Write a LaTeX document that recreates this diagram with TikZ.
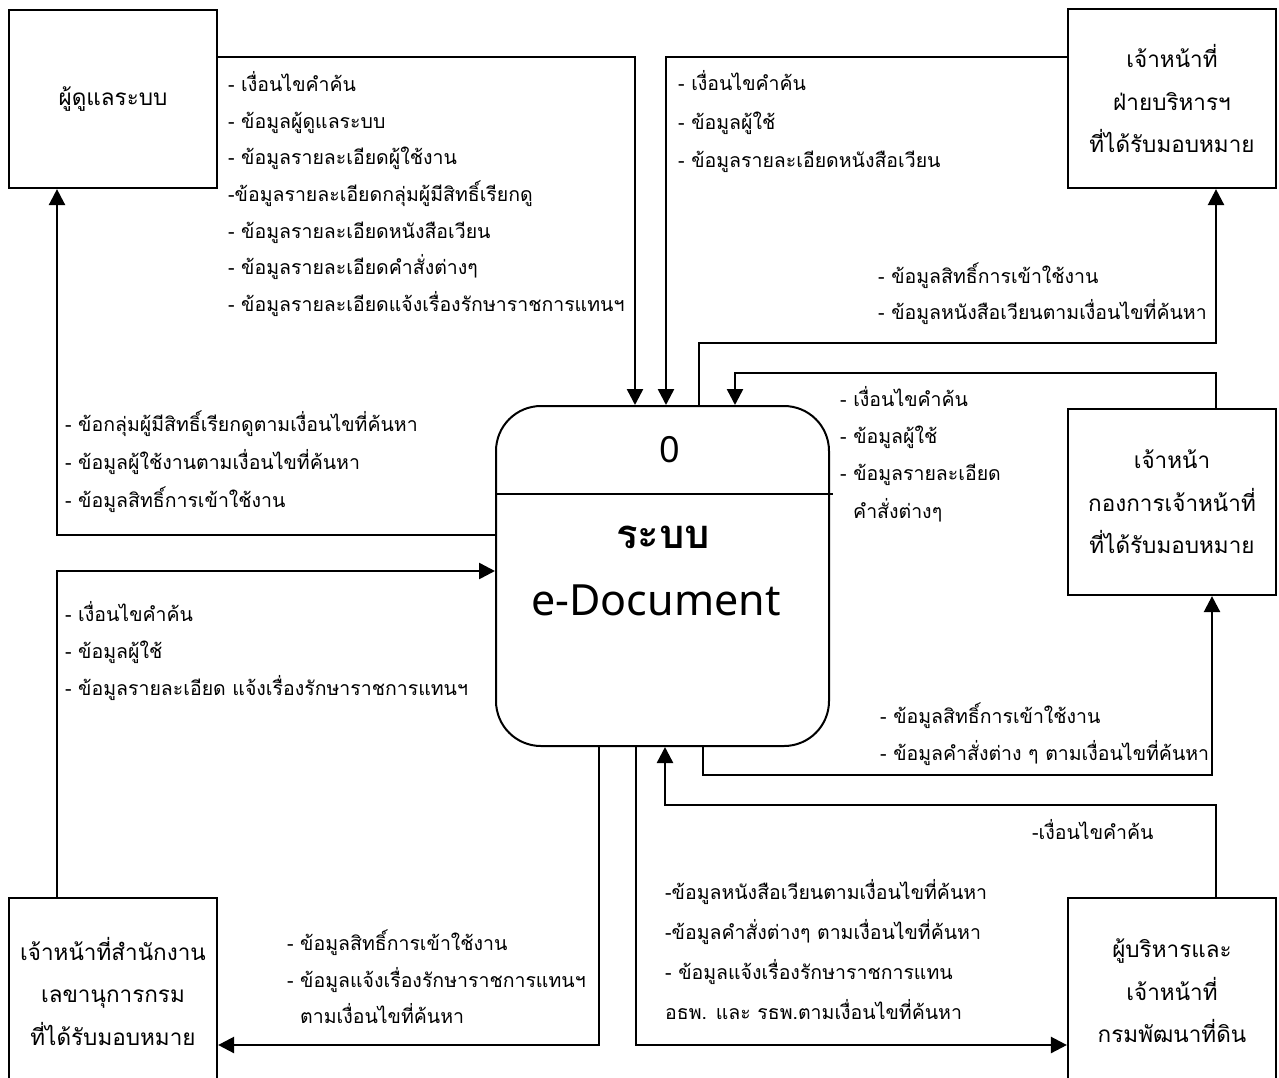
\documentclass[tikz,border=0pt]{standalone}
\usepackage{fontspec}
\setmainfont[Script=Thai]{Loma}
\newfontfamily\latinfont{Noto Sans}
\usetikzlibrary{arrows.meta}

\tikzset{
  entity/.style={draw, line width=2.2pt, minimum width=208pt, align=center,
    inner sep=0pt, font=\fontsize{22.5}{42.5}\selectfont},
  flow/.style={line width=2.5pt, -{Triangle[width=16pt,length=16pt]}},
  note/.style={anchor=west, align=left, inner sep=0pt},
  notefont/.style={font=\fontsize{19.5}{#1}\selectfont},
}

\begin{document}
\begin{tikzpicture}[x=1pt,y=-1pt]
\useasboundingbox (0,0) rectangle (1279,1077);
\clip (0,0) rectangle (1279,1077);

% external entities
\node[entity, minimum height=178pt] (admin) at (113,99) {ผู้ดูแลระบบ};
\node[entity, minimum height=179pt] (ops) at (1172,98.5)
  {เจ้าหน้าที่\\ฝ่ายบริหารฯ\\ที่ได้รับมอบหมาย};
\node[entity, minimum height=186pt] (hr) at (1172,502)
  {เจ้าหน้า\\กองการเจ้าหน้าที่\\ที่ได้รับมอบหมาย};
\node[entity, minimum height=186pt] (secr) at (113,991)
  {เจ้าหน้าที่สำนักงาน\\เลขานุการกรม\\ที่ได้รับมอบหมาย};
\node[entity, minimum height=186pt] (exec) at (1172,991)
  {ผู้บริหารและ\\เจ้าหน้าที่\\กรมพัฒนาที่ดิน};

% the process
\node[draw, line width=2pt, rounded corners=45pt, minimum width=333pt,
  minimum height=340pt, inner sep=0pt] (sys) at (662.5,576) {};
\draw[line width=2pt] (sys.west |- 0,494) -- ([xshift=3pt]sys.east |- 0,494);
\node[font=\latinfont\fontsize{36}{40}\selectfont] (sysid) at (670,450) {0};
\node[font=\bfseries\fontsize{40}{44}\selectfont] (sysname) at (663,537) {ระบบ};
\node[font=\latinfont\fontsize{43}{48}\selectfont] (sysdoc) at (656,600) {e-Document};

% data flows
\draw[flow] (admin.east |- 0,57) -| (sys.north -| 635,0);
\draw[flow] (ops.west |- 0,57) -| (sys.north -| 666,0);
\draw[flow] (sys.north -| 699,0) -- (699,343) -| (ops.south -| 1216,0);
\draw[flow] (hr.north -| 1216,0) -- (1216,373) -| (sys.north -| 735,0);
\draw[flow] (sys.west |- 0,535) -| (admin.south -| 57,0);
\draw[flow] (secr.north -| 57,0) |- (sys.west |- 0,571);
\draw[flow] (sys.south -| 599,0) |- (secr.east |- 0,1045);
\draw[flow] (sys.south -| 636,0) |- (exec.west |- 0,1045);
\draw[flow] (exec.north -| 1216,0) -- (1216,805) -| (sys.south -| 665,0);
\draw[flow] (sys.south -| 703,0) -- (703,775) -| (hr.south -| 1212,0);

% flow labels
\node[note, notefont=36.7] (la) at (228,194) {- เงื่อนไขคำค้น\\- ข้อมูลผู้ดูแลระบบ\\- ข้อมูลรายละเอียดผู้ใช้งาน\\-ข้อมูลรายละเอียดกลุ่มผู้มีสิทธิ์เรียกดู\\- ข้อมูลรายละเอียดหนังสือเวียน\\- ข้อมูลรายละเอียดคำสั่งต่างๆ\\- ข้อมูลรายละเอียดแจ้งเรื่องรักษาราชการแทนฯ};
\node[note, notefont=38.5] (lb) at (678,122) {- เงื่อนไขคำค้น\\- ข้อมูลผู้ใช้\\- ข้อมูลรายละเอียดหนังสือเวียน};
\node[note, notefont=36] (lc) at (878,294) {- ข้อมูลสิทธิ์การเข้าใช้งาน\\- ข้อมูลหนังสือเวียนตามเงื่อนไขที่ค้นหา};
\node[note, notefont=38] (ld) at (65,462) {- ข้อกลุ่มผู้มีสิทธิ์เรียกดูตามเงื่อนไขที่ค้นหา\\- ข้อมูลผู้ใช้งานตามเงื่อนไขที่ค้นหา\\- ข้อมูลสิทธิ์การเข้าใช้งาน};
\node[note, notefont=37.3] (le) at (840,454) {- เงื่อนไขคำค้น\\- ข้อมูลผู้ใช้\\- ข้อมูลรายละเอียด\\\hspace*{13pt}คำสั่งต่างๆ};
\node[note, notefont=37] (lf) at (65,651) {- เงื่อนไขคำค้น\\- ข้อมูลผู้ใช้\\- ข้อมูลรายละเอียด แจ้งเรื่องรักษาราชการแทนฯ};
\node[note, notefont=37] (lg) at (880,734.5) {- ข้อมูลสิทธิ์การเข้าใช้งาน\\- ข้อมูลคำสั่งต่าง ๆ ตามเงื่อนไขที่ค้นหา};
\node[note, notefont=37] (lh) at (1032,830) {-เงื่อนไขคำค้น};
\node[note, notefont=40] (li) at (665,950) {-ข้อมูลหนังสือเวียนตามเงื่อนไขที่ค้นหา\\-ข้อมูลคำสั่งต่างๆ ตามเงื่อนไขที่ค้นหา\\- ข้อมูลแจ้งเรื่องรักษาราชการแทน\\อธพ. และ รธพ.ตามเงื่อนไขที่ค้นหา};
\node[note, notefont=36.5] (lj) at (287,977) {- ข้อมูลสิทธิ์การเข้าใช้งาน\\- ข้อมูลแจ้งเรื่องรักษาราชการแทนฯ\\\hspace*{13pt}ตามเงื่อนไขที่ค้นหา};
\end{tikzpicture}
\end{document}
